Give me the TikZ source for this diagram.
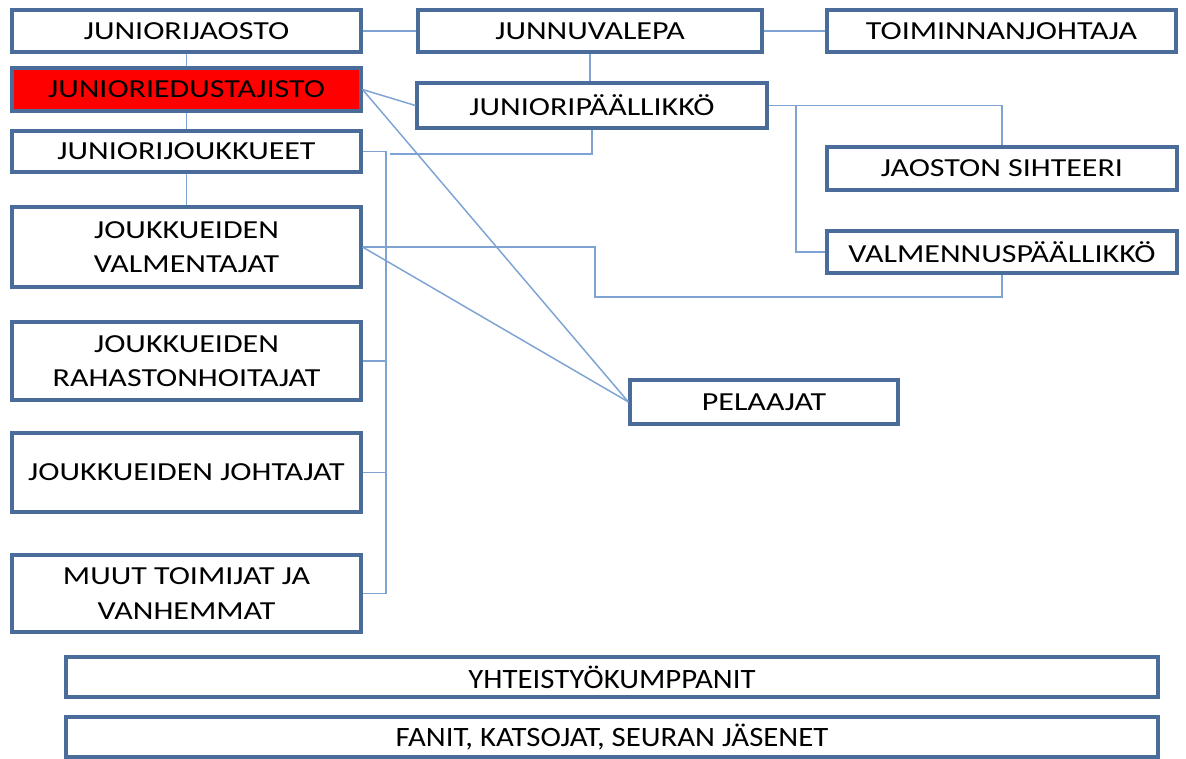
\documentclass[tikz,border=0pt]{standalone}
\usepackage{fontspec}
\setmainfont{Carlito}[FakeStretch=1.23]
\newfontfamily\widefont{Carlito}[FakeStretch=1.1]
\definecolor{boxblue}{HTML}{4A6C9B}
\definecolor{linkblue}{HTML}{7EA3D2}
\definecolor{redfill}{HTML}{FF0000}
\tikzset{
  orgbox/.style 2 args={draw=boxblue, line width=2.3pt, fill=white,
    minimum width=#1*0.75pt, minimum height=#2*0.75pt, inner sep=0pt,
    align=center, text=black},
  link/.style={draw=linkblue, line width=1.1pt},
  bandbox/.style={orgbox={1092}{40}, font=\widefont\fontsize{21}{22}\selectfont},
}

\begin{document}
\begin{tikzpicture}[x=0.75pt, y=-0.75pt, font=\fontsize{19.5}{26}\selectfont]
    \useasboundingbox (0,0) rectangle (1186,758);

    % Left column.
    \node[orgbox={349}{42}] (jaosto) at (186.5,31) {JUNIORIJAOSTO};
    \node[orgbox={349}{43}, fill=redfill] (edustajisto) at (186.5,89.5) {JUNIORIEDUSTAJISTO};
    \node[orgbox={349}{41}] (joukkueet) at (186.5,151.5) {JUNIORIJOUKKUEET};
    \node[orgbox={349}{80}] (valmentajat) at (186.5,247) {JOUKKUEIDEN\\VALMENTAJAT};
    \node[orgbox={349}{78}] (rahasto) at (186.5,361) {JOUKKUEIDEN\\RAHASTONHOITAJAT};
    \node[orgbox={349}{79}] (johtajat) at (186.5,472.5) {JOUKKUEIDEN JOHTAJAT};
    \node[orgbox={349}{77}] (muut) at (186.5,593.5) {MUUT TOIMIJAT JA\\VANHEMMAT};

    % Top row and the right side.
    \node[orgbox={344}{42}] (junnuvalepa) at (590,31) {JUNNUVALEPA};
    \node[orgbox={349}{42}] (toiminnan) at (1001.5,31) {TOIMINNANJOHTAJA};
    \node[orgbox={350}{45}] (paallikko) at (592,105.5) {JUNIORIPÄÄLLIKKÖ};
    \node[orgbox={350}{43}] (sihteeri) at (1002,168.5) {JAOSTON SIHTEERI};
    \node[orgbox={350}{42}] (valmennus) at (1002,252) {VALMENNUSPÄÄLLIKKÖ};
    \node[orgbox={268}{44}] (pelaajat) at (764,402) {PELAAJAT};

    % Wide boxes at the bottom.
    \node[bandbox] (kumppanit) at (612,677) {YHTEISTYÖKUMPPANIT};
    \node[bandbox] (fanit) at (612,737) {FANIT, KATSOJAT, SEURAN JÄSENET};

    % Free ends and bends.
    \coordinate (runko) at (386,152);
    \coordinate (kytkin) at (390,154);
    \coordinate (haara) at (796,105.5);
    \coordinate (mutka) at (595,297);

    % Straight links.
    \draw[link] (jaosto.east) -- (junnuvalepa.west);
    \draw[link] (junnuvalepa.east) -- (toiminnan.west);
    \draw[link] (junnuvalepa.south) -- (junnuvalepa.south |- paallikko.north);
    \draw[link] (jaosto) -- (edustajisto);
    \draw[link] (edustajisto) -- (joukkueet);
    \draw[link] (joukkueet) -- (valmentajat);

    % Diagonal links.
    \draw[link] (edustajisto.east) -- (paallikko.west);
    \draw[link] (edustajisto.east) -- (pelaajat.west);
    \draw[link] (valmentajat.east) -- (pelaajat.west);

    % Elbow links.
    \draw[link] (paallikko.south) |- (kytkin);
    \draw[link] (joukkueet.east) -| (runko |- muut.east) -- (muut.east);
    \foreach \n in {rahasto, johtajat}
        \draw[link] (\n.east) -- (runko |- \n.east);
    \draw[link] (paallikko.east) -| (sihteeri.north);
    \draw[link] (haara) |- (valmennus.west);
    \draw[link] (valmentajat.east) -| (mutka) -| (valmennus.south);

\end{tikzpicture}
\end{document}
